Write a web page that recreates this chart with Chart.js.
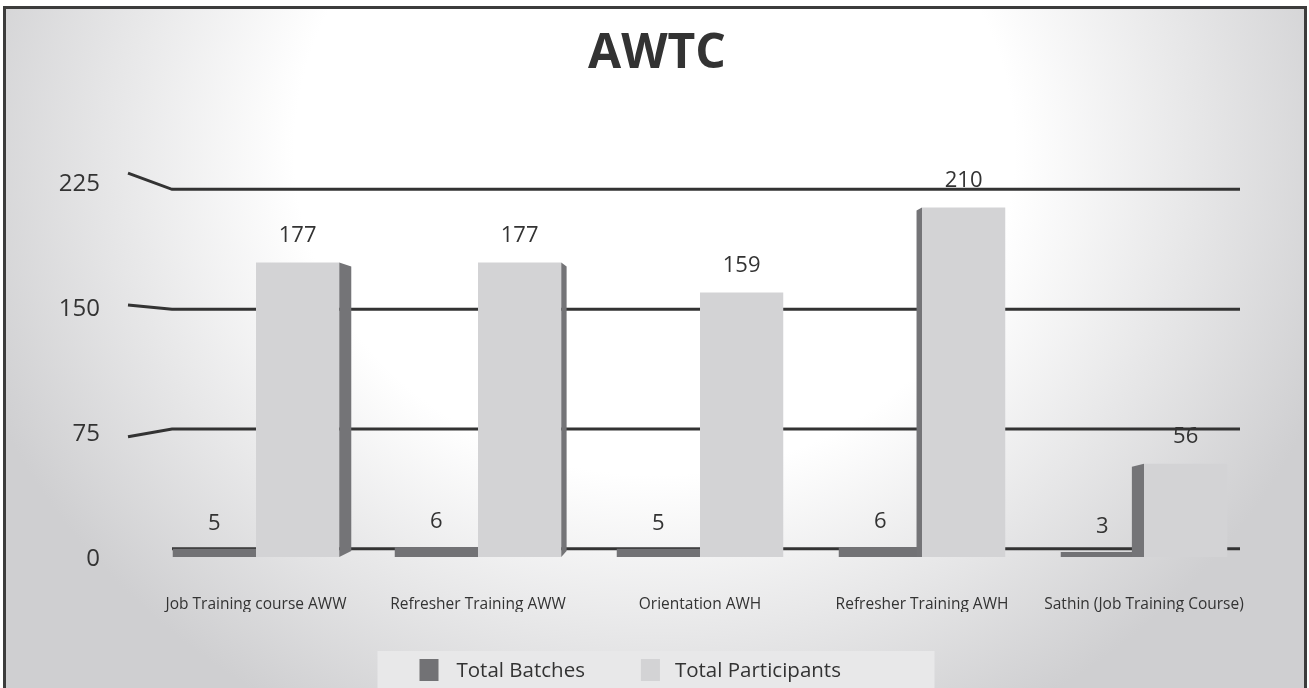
<!DOCTYPE html>
<html>
<head>
<meta charset="utf-8">
<title>AWTC</title>
<script src="https://cdn.jsdelivr.net/npm/chart.js@4.4.1/dist/chart.umd.min.js"></script>
<style>
  html, body { margin: 0; padding: 0; background: #ffffff; }
  #wrap { width: 1309px; height: 688px; position: relative; }
</style>
</head>
<body>
<div id="wrap"><canvas id="awtcChart" width="1309" height="688"></canvas></div>
<script>
// chart data
const categories = [
    'Job Training course AWW',
    'Refresher Training AWW',
    'Orientation AWH',
    'Refresher Training AWH',
    'Sathin (Job Training Course)'
];
const seriesNames = ['Total Batches', 'Total Participants'];
const totalBatches = [5, 6, 5, 6, 3];
const totalParticipants = [177, 177, 159, 210, 56];
const yTicks = [0, 75, 150, 225];

const FONT = "'Open Sans', 'Noto Sans', sans-serif";
const INK = '#333333';
const BATCH_COLOR = '#727275';
const PART_COLOR = '#d3d3d5';
const SIDE_COLOR = '#747477';

// background, frame, fake 3D gridlines, bar sides, value labels, legend
const awtcDecor = {
    id: 'awtcDecor',
    beforeDraw(chart) {
        const ctx = chart.ctx;
        const w = chart.width, h = chart.height;
        ctx.save();
        ctx.fillStyle = '#ffffff';
        ctx.fillRect(0, 0, w, h);

        // radial grey background
        const cx = w / 2, cy = 150, rx = 720, ry = 650;
        ctx.save();
        ctx.beginPath();
        ctx.rect(5, 8, w - 10, h - 8);
        ctx.clip();
        ctx.translate(cx, cy);
        ctx.scale(1, ry / rx);
        const g = ctx.createRadialGradient(0, 0, 0, 0, 0, rx);
        g.addColorStop(0, '#ffffff');
        g.addColorStop(0.5, '#ffffff');
        g.addColorStop(1, '#cfcfd1');
        ctx.fillStyle = g;
        ctx.fillRect(-cx - 10, -cy * rx / ry - 10, w + 20, (h + 20) * rx / ry);
        ctx.restore();

        // outer frame
        ctx.strokeStyle = '#3c3c3c';
        ctx.lineWidth = 3;
        ctx.strokeRect(4.5, 7.5, w - 8, h + 10);
        ctx.restore();
    },
    beforeDatasetsDraw(chart) {
        const ctx = chart.ctx;
        const area = chart.chartArea;
        const yScale = chart.scales.y;
        const vy = area.top + 168;
        const x0 = area.left + 27;
        const x1 = area.right - 15;
        ctx.save();
        ctx.strokeStyle = '#333333';
        ctx.lineWidth = 3;
        yTicks.forEach(v => {
            const yp = yScale.getPixelForValue(v);
            const yl = yp + (vy - yp) * 0.04;
            ctx.beginPath();
            if (v !== 0) {
                ctx.moveTo(x0 - 44, yl + (yl - vy) * 0.1);
            } else {
                ctx.moveTo(x0, yl);
            }
            ctx.lineTo(x0, yl);
            ctx.lineTo(x1, yl);
            ctx.stroke();
        });
        ctx.restore();
    },
    afterDatasetsDraw(chart) {
        const ctx = chart.ctx;
        const area = chart.chartArea;
        const vx = (area.left + area.right) / 2 + 40;
        const base = chart.scales.y.getPixelForValue(0);
        ctx.save();

        // side faces of participant bars
        const partMeta = chart.getDatasetMeta(1);
        ctx.fillStyle = SIDE_COLOR;
        partMeta.data.forEach(el => {
            const left = el.x - el.width / 2;
            const right = el.x + el.width / 2;
            ctx.beginPath();
            if (right < vx) {
                const d = (vx - right) * 0.03;
                ctx.moveTo(right, el.y);
                ctx.lineTo(right + d, el.y + 4);
                ctx.lineTo(right + d, base - 6);
                ctx.lineTo(right, base);
            } else if (left > vx) {
                const d = (left - vx) * 0.03;
                ctx.moveTo(left, el.y);
                ctx.lineTo(left - d, el.y + 3);
                ctx.lineTo(left - d, base);
                ctx.lineTo(left, base);
            }
            ctx.closePath();
            ctx.fill();
        });

        // value labels
        ctx.fillStyle = INK;
        ctx.font = '22px ' + FONT;
        ctx.textAlign = 'center';
        ctx.textBaseline = 'middle';
        chart.data.datasets.forEach((ds, i) => {
            const meta = chart.getDatasetMeta(i);
            const lift = i === 0 ? 25 : 27;
            meta.data.forEach((el, j) => {
                ctx.fillText(String(ds.data[j]), el.x, el.y - lift);
            });
        });
        ctx.restore();
    },
    afterDraw(chart) {
        // legend strip at the bottom
        const ctx = chart.ctx;
        const bx = chart.width / 2 - 277;
        const by = 651;
        ctx.save();
        ctx.fillStyle = '#e8e8e9';
        ctx.fillRect(bx, by, 557, chart.height - by);
        ctx.font = '20.5px ' + FONT;
        ctx.textBaseline = 'middle';
        ctx.textAlign = 'left';
        let x = bx + 42;
        const cy = by + 19;
        chart.data.datasets.forEach((ds, i) => {
            ctx.fillStyle = ds.backgroundColor;
            ctx.fillRect(x, cy - 11, 19, 22);
            x += 19 + (i === 0 ? 18 : 15);
            ctx.fillStyle = INK;
            ctx.fillText(ds.label, x, cy + 1);
            x += ctx.measureText(ds.label).width + 56;
        });
        ctx.restore();
    }
};

const chart = new Chart(document.getElementById('awtcChart').getContext('2d'), {
    type: 'bar',
    data: {
        labels: categories,
        datasets: [
            {
                label: seriesNames[0],
                data: totalBatches,
                backgroundColor: BATCH_COLOR,
                borderWidth: 0,
                categoryPercentage: 0.75,
                barPercentage: 1.0
            },
            {
                label: seriesNames[1],
                data: totalParticipants,
                backgroundColor: PART_COLOR,
                borderWidth: 0,
                categoryPercentage: 0.75,
                barPercentage: 1.0
            }
        ]
    },
    options: {
        responsive: false,
        animation: false,
        devicePixelRatio: 1,
        layout: { padding: { left: 59, right: 54, top: 0, bottom: 76 } },
        plugins: {
            legend: { display: false },
            tooltip: { enabled: false },
            title: {
                display: true,
                text: 'AWTC',
                color: INK,
                font: { family: FONT, size: 48, weight: 'bold' },
                padding: { top: 26, bottom: 99 }
            }
        },
        scales: {
            x: {
                grid: { display: false, drawTicks: false },
                border: { display: false },
                ticks: {
                    color: INK,
                    font: { family: FONT, size: 15.5 },
                    padding: 38,
                    maxRotation: 0,
                    autoSkip: false
                },
                afterFit(scale) {
                    scale.height = 55;
                    scale.paddingLeft = 0;
                    scale.paddingRight = 0;
                }
            },
            y: {
                min: 0,
                max: 225,
                grid: { display: false, drawTicks: false },
                border: { display: false },
                ticks: {
                    stepSize: 75,
                    color: INK,
                    font: { family: FONT, size: 24 },
                    padding: 45,
                    labelOffset: 2
                },
                afterFit(scale) {
                    scale.width = 86;
                }
            }
        }
    },
    plugins: [awtcDecor]
});
</script>
</body>
</html>
